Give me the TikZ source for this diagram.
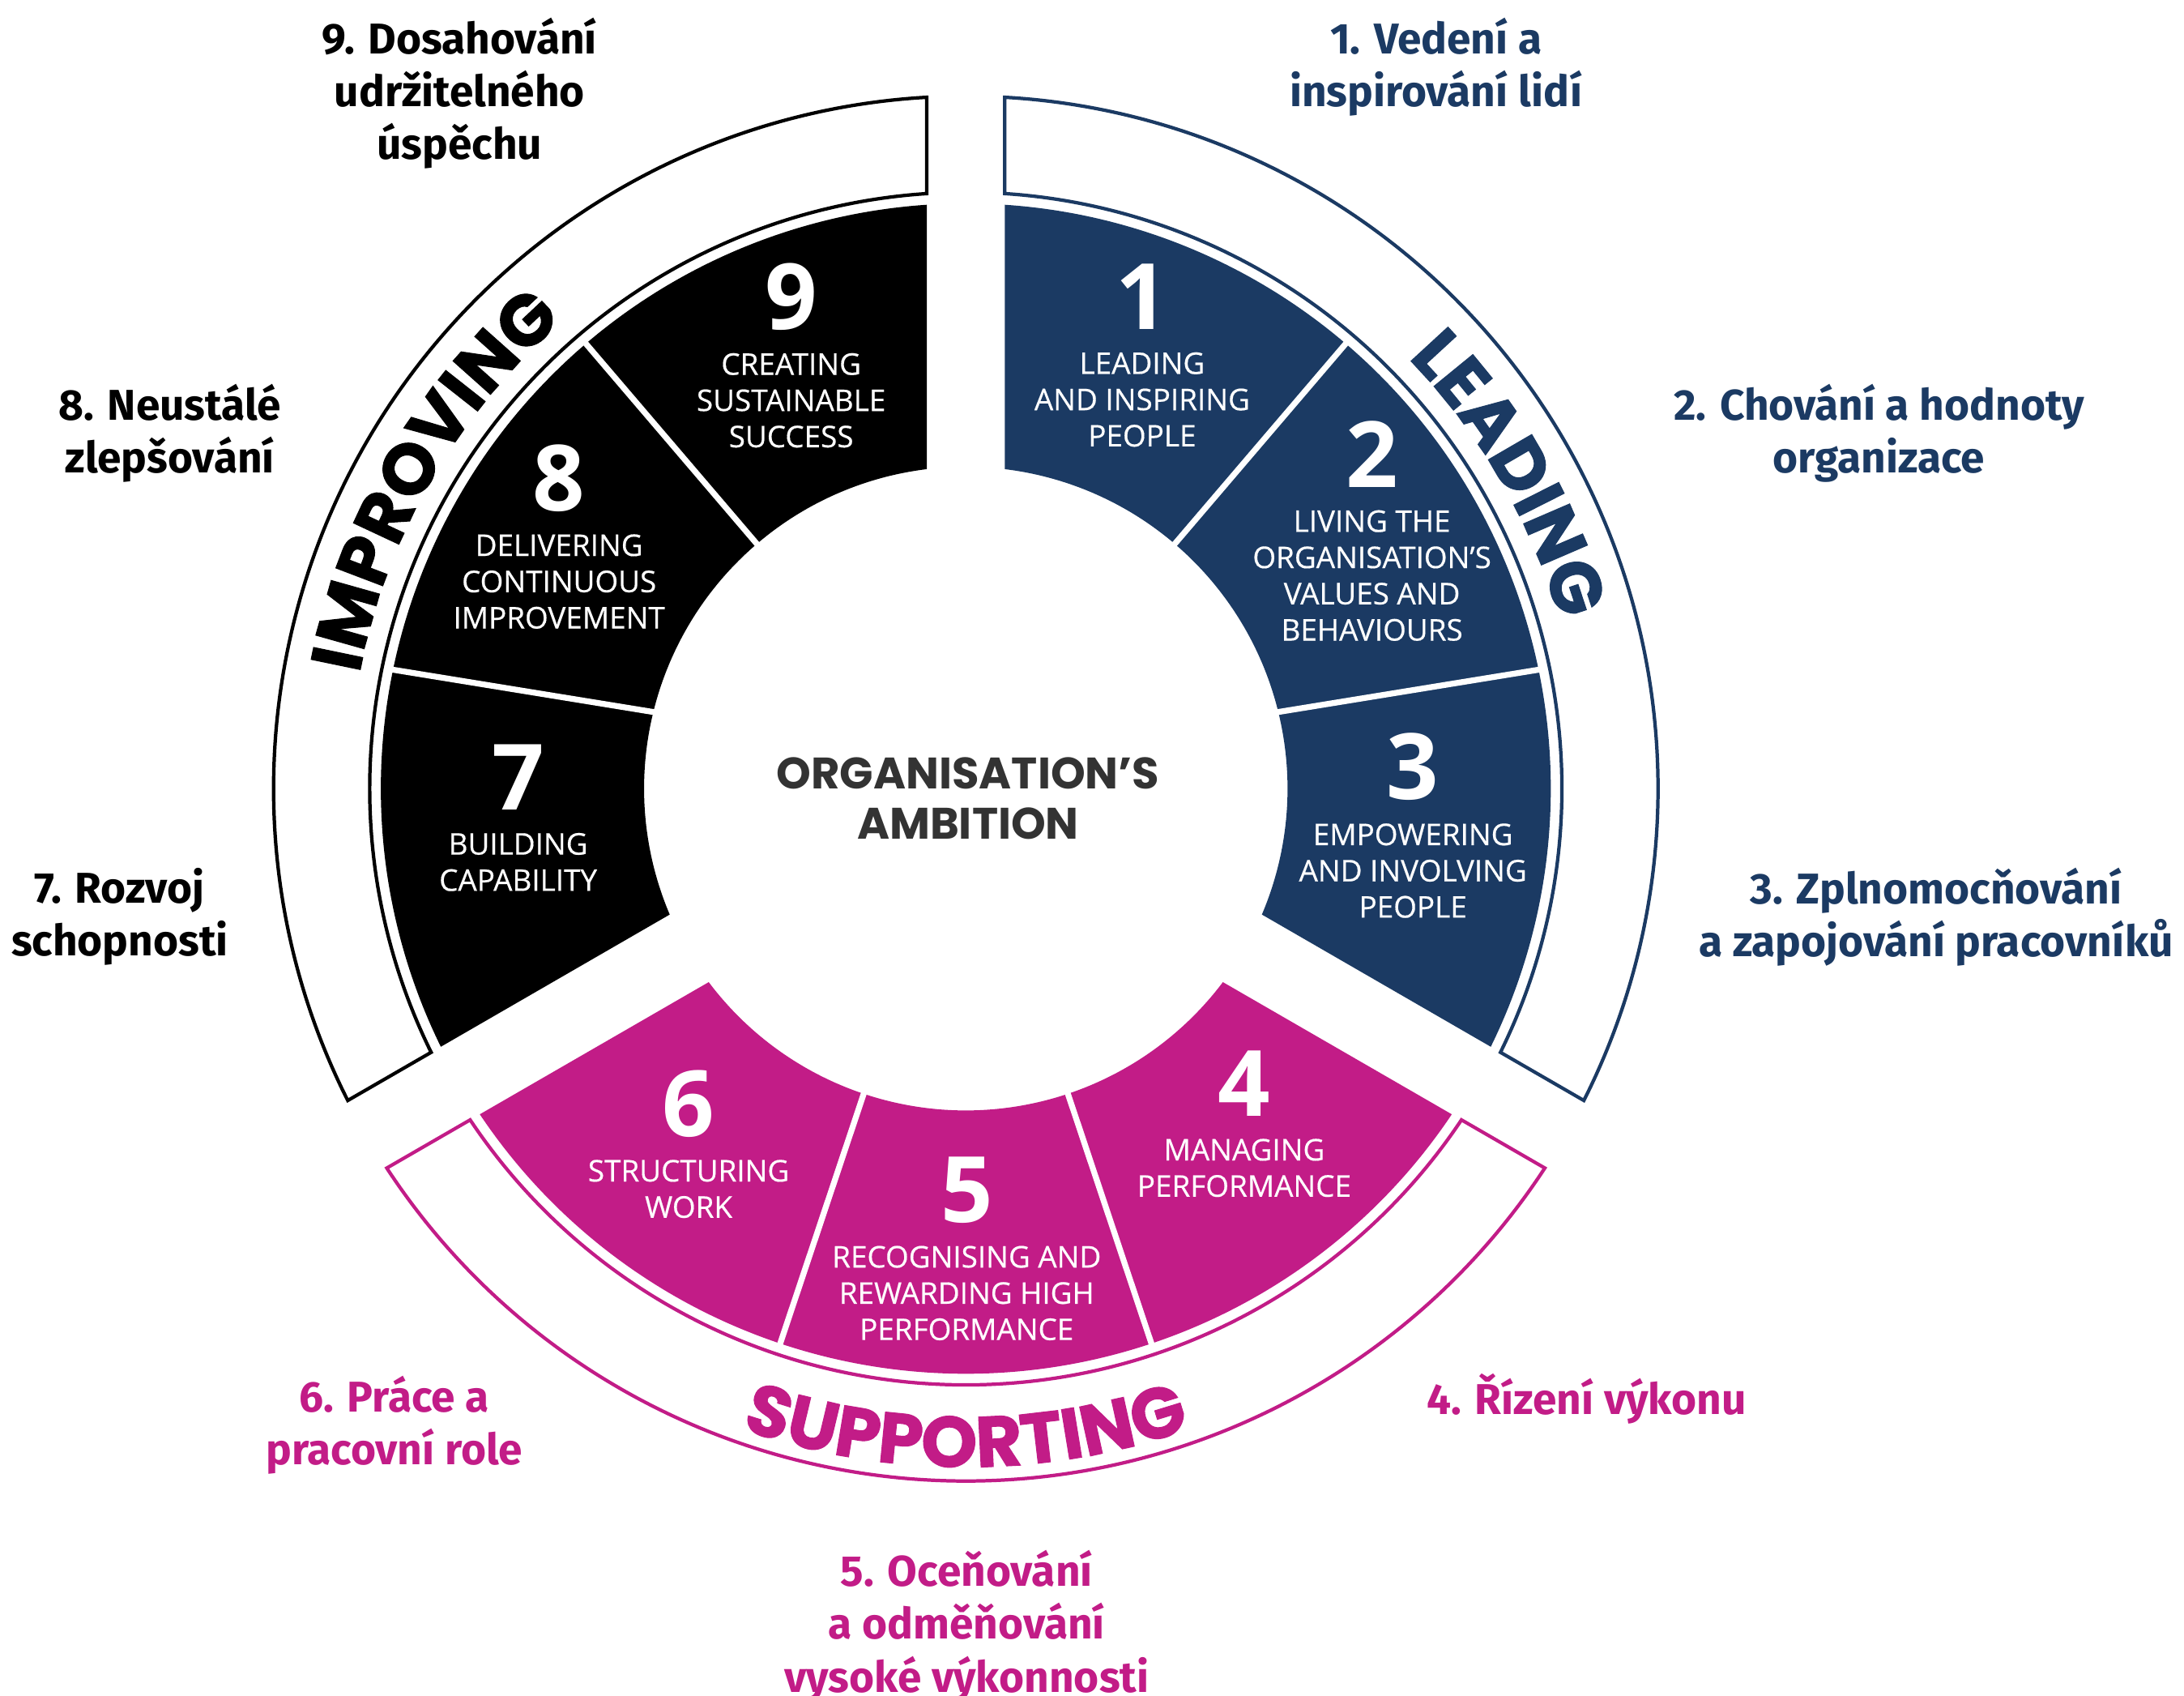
\documentclass[tikz,border=0pt]{standalone}
\usepackage{fontspec}
\setmainfont{Fira Sans}
\newfontfamily\geofont{Poppins}
\newfontfamily\heavyfont{Poppins}[BoldFeatures={FakeBold=1.2}]
\newfontfamily\segfont{Open Sans}[FakeBold=0.4]
\newfontfamily\numfont{Open Sans}
\usetikzlibrary{positioning}
\usetikzlibrary{decorations.text}

\definecolor{navyblue}{HTML}{1B3A63}
\definecolor{magentapink}{HTML}{C21C87}
\definecolor{darkgrey}{HTML}{333333}

\newcommand{\bandfont}{\heavyfont\bfseries\fontsize{14.6}{15}\selectfont}

\tikzset{
        % Big segment numbers
        node_number/.style={inner sep=0pt, white, font=\numfont\bfseries\fontsize{18.7}{20}\selectfont},
        % Segment texts
        node_segtext/.style={inner sep=0pt, align=center, white, font=\segfont\fontsize{6.1}{7.4}\selectfont},
        % Czech labels around the wheel
        node_label/.style={inner sep=0pt, align=center, font=\bfseries\fontsize{8.8}{10.8}\selectfont},
        % Centre text
        node_centre/.style={inner sep=0pt, align=center, darkgrey, font=\geofont\bfseries\fontsize{9}{10.2}\selectfont},
        % White lines between segments
        divider/.style={white, line width=1.2pt},
        % Outer bands
        band/.style={fill=white, line width=0.7pt}
}

\begin{document}
\begin{tikzpicture}
\useasboundingbox (-6.934,-6.51) rectangle (8.746,5.66);

% segments and bands of the three groups
\foreach \mid/\col in {30/navyblue, -90/magentapink, 150/black} {
    \fill[\col] ({\mid+60-asin(0.28/4.2)}:4.2)
        arc[start angle={\mid+60-asin(0.28/4.2)}, end angle={\mid-60+asin(0.28/4.2)}, radius=4.2]
        -- ({\mid-60+asin(0.28/2.31)}:2.31)
        arc[start angle={\mid-60+asin(0.28/2.31)}, end angle={\mid+60-asin(0.28/2.31)}, radius=2.31]
        -- cycle;
    \draw[band, draw=\col] ({\mid+60-asin(0.28/4.97)}:4.97)
        arc[start angle={\mid+60-asin(0.28/4.97)}, end angle={\mid-60+asin(0.28/4.97)}, radius=4.97]
        -- ({\mid-60+asin(0.28/4.28)}:4.28)
        arc[start angle={\mid-60+asin(0.28/4.28)}, end angle={\mid+60-asin(0.28/4.28)}, radius=4.28]
        -- cycle;
}
\foreach \a/\b in {49.5/49.5, 14/11.7, -71.5/-71.5, -108.5/-108.5, 166/168.3, 130.5/130.5}
    \draw[divider] (\a:2.2) -- (\b:4.24);

% band words
\path[decorate, decoration={text along path, text align=center,
    text={|\bandfont\color{navyblue}|LEADING}}]
    (65:4.43) arc[start angle=65, end angle=-5, radius=4.43];
\path[decorate, decoration={text along path, text align=center,
    text={|\bandfont\color{black}|IMPROVING}}]
    (185:4.43) arc[start angle=185, end angle=115, radius=4.43];
\path[decorate, decoration={text along path, text align=center,
    text={|\bandfont\color{magentapink}|SUPPORTING}}]
    (-125:4.87) arc[start angle=-125, end angle=-55, radius=4.87];

% segments
\node[node_number] (n1) at (1.266,3.53) {1};
\node[node_segtext, below=1.5mm of n1] (t1) {LEADING\\AND INSPIRING\\PEOPLE};
\node[node_number] (n2) at (2.916,2.40) {2};
\node[node_segtext, below=1.5mm of n2] (t2) {LIVING THE\\ORGANISATION’S\\VALUES AND\\BEHAVIOURS};
\node[node_number] (n3) at (3.21,0.155) {3};
\node[node_segtext, below=1.5mm of n3] (t3) {EMPOWERING\\AND INVOLVING\\PEOPLE};
\node[node_number] (n4) at (1.999,-2.115) {4};
\node[node_segtext, below=1.5mm of n4] (t4) {MANAGING\\PERFORMANCE};
\node[node_number] (n5) at (0.006,-2.88) {5};
\node[node_segtext, below=1.5mm of n5] (t5) {RECOGNISING AND\\REWARDING HIGH\\PERFORMANCE};
\node[node_number] (n6) at (-1.99,-2.26) {6};
\node[node_segtext, below=1.5mm of n6] (t6) {STRUCTURING\\WORK};
\node[node_number] (n7) at (-3.214,0.08) {7};
\node[node_segtext, below=1.5mm of n7] (t7) {BUILDING\\CAPABILITY};
\node[node_number] (n8) at (-2.92,2.23) {8};
\node[node_segtext, below=1.5mm of n8] (t8) {DELIVERING\\CONTINUOUS\\IMPROVEMENT};
\node[node_number] (n9) at (-1.254,3.53) {9};
\node[node_segtext, below=1.5mm of n9] (t9) {CREATING\\SUSTAINABLE\\SUCCESS};

% centre
\node[node_centre] (ambition) at (0.016,-0.07) {ORGANISATION’S\\AMBITION};

% Czech labels
\node[node_label, navyblue] (cz1) at (3.376,5.18) {1. Vedení a\\inspirování lidí};
\node[node_label, navyblue] (cz2) at (6.556,2.55) {2. Chování a hodnoty\\organizace};
\node[node_label, navyblue] (cz3) at (6.966,-0.92) {3. Zplnomocňování\\a zapojování pracovníků};
\node[node_label, magentapink] (cz4) at (4.456,-4.38) {4. Řízení výkonu};
\node[node_label, magentapink] (cz5) at (0.006,-6.01) {5. Oceňování\\a odměňování\\vysoké výkonnosti};
\node[node_label, magentapink] (cz6) at (-4.104,-4.57) {6. Práce a\\pracovní role};
\node[node_label] (cz7) at (-6.074,-0.92) {7. Rozvoj\\schopnosti};
\node[node_label] (cz8) at (-5.714,2.55) {8. Neustálé\\zlepšování};
\node[node_label] (cz9) at (-3.634,4.99) {9. Dosahování\\udržitelného\\úspěchu};
\end{tikzpicture}
\end{document}
